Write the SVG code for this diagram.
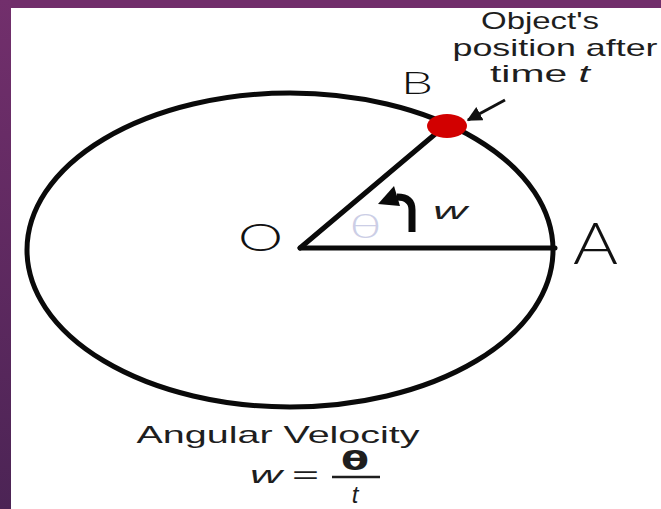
<svg xmlns="http://www.w3.org/2000/svg" width="661" height="509" viewBox="0 0 661 509">
<defs>
<linearGradient id="band" x1="0" y1="0" x2="0" y2="1">
<stop offset="0" stop-color="#722f6c"/>
<stop offset="1" stop-color="#4c2455"/>
</linearGradient>
<marker id="ah" viewBox="0 0 10 10" refX="9" refY="5" markerWidth="5" markerHeight="5" orient="auto" markerUnits="strokeWidth">
<path d="M0,0 L10,5 L0,10 z" fill="#111"/>
</marker>
<style>
.lbl{font-family:"Liberation Sans",Arial,sans-serif;fill:#1e1e1e;font-size:24px}
.hand{font-family:Lato,"Open Sans",sans-serif;font-weight:300;fill:#111}
.ln{stroke:#0a0a0a;stroke-width:5;fill:none;stroke-linecap:round}
</style>
</defs>
<rect x="0" y="0" width="661" height="509" fill="#ffffff"/>
<rect x="0" y="0" width="661" height="8" fill="#712e6b"/>
<rect x="0" y="0" width="11" height="509" fill="url(#band)"/>

<g id="circle">
<ellipse cx="290" cy="250" rx="263" ry="157" class="ln"/>
</g>

<g id="connectors">
<line x1="300" y1="248" x2="555" y2="248" class="ln"/>
<line x1="300" y1="248" x2="440" y2="130" class="ln"/>
<line x1="505" y1="100" x2="468" y2="120" stroke="#111" stroke-width="3" marker-end="url(#ah)"/>
</g>

<g id="object">
<ellipse cx="447" cy="126" rx="20" ry="12" fill="#d20000"/>
</g>

<g id="label-O">
<text class="hand" x="238" y="251" font-size="38" textLength="45" lengthAdjust="spacingAndGlyphs">O</text>
</g>
<g id="label-A">
<text class="hand" x="573" y="264" font-size="58" textLength="45" lengthAdjust="spacingAndGlyphs">A</text>
</g>
<g id="label-B">
<text class="hand" x="401" y="94" font-size="31" font-weight="400" textLength="32" lengthAdjust="spacingAndGlyphs">B</text>
</g>

<g id="angle">
<text x="349" y="238" font-family="Lato,'DejaVu Sans',sans-serif" font-weight="300" font-size="34" fill="#8f95c8" opacity="0.45" textLength="33" lengthAdjust="spacingAndGlyphs">θ</text>
<path d="M412,232 L412,210 Q412,197 397,197" stroke="#0a0a0a" stroke-width="7" fill="none"/>
<polygon points="378,204 394,186 400,206" fill="#0a0a0a"/>
<text class="lbl" x="433" y="219" font-size="25" font-style="italic" textLength="34" lengthAdjust="spacingAndGlyphs">w</text>
</g>

<g id="caption-object">
<text class="lbl" x="540" y="29" text-anchor="middle" textLength="118" lengthAdjust="spacingAndGlyphs">Object's</text>
<text class="lbl" x="555" y="56" text-anchor="middle" textLength="205" lengthAdjust="spacingAndGlyphs">position after</text>
<text class="lbl" x="540" y="82" text-anchor="middle" textLength="100" lengthAdjust="spacingAndGlyphs">time <tspan font-style="italic">t</tspan></text>
</g>

<g id="caption-formula">
<text class="lbl" x="278" y="443" text-anchor="middle" font-size="30" textLength="283" lengthAdjust="spacingAndGlyphs">Angular Velocity</text>
<text class="lbl" x="250" y="483" font-size="32" font-style="italic" textLength="32" lengthAdjust="spacingAndGlyphs">w</text>
<text class="lbl" x="292" y="483" font-size="32" textLength="27" lengthAdjust="spacingAndGlyphs">=</text>
<text x="355" y="470" text-anchor="middle" font-family="DejaVu Sans,sans-serif" font-size="26" font-weight="bold" fill="#1e1e1e" textLength="28" lengthAdjust="spacingAndGlyphs">θ</text>
<line x1="332" y1="477" x2="380" y2="477" stroke="#1e1e1e" stroke-width="2.5"/>
<text class="lbl" x="355" y="503" text-anchor="middle" font-size="28" font-style="italic">t</text>
</g>
</svg>
